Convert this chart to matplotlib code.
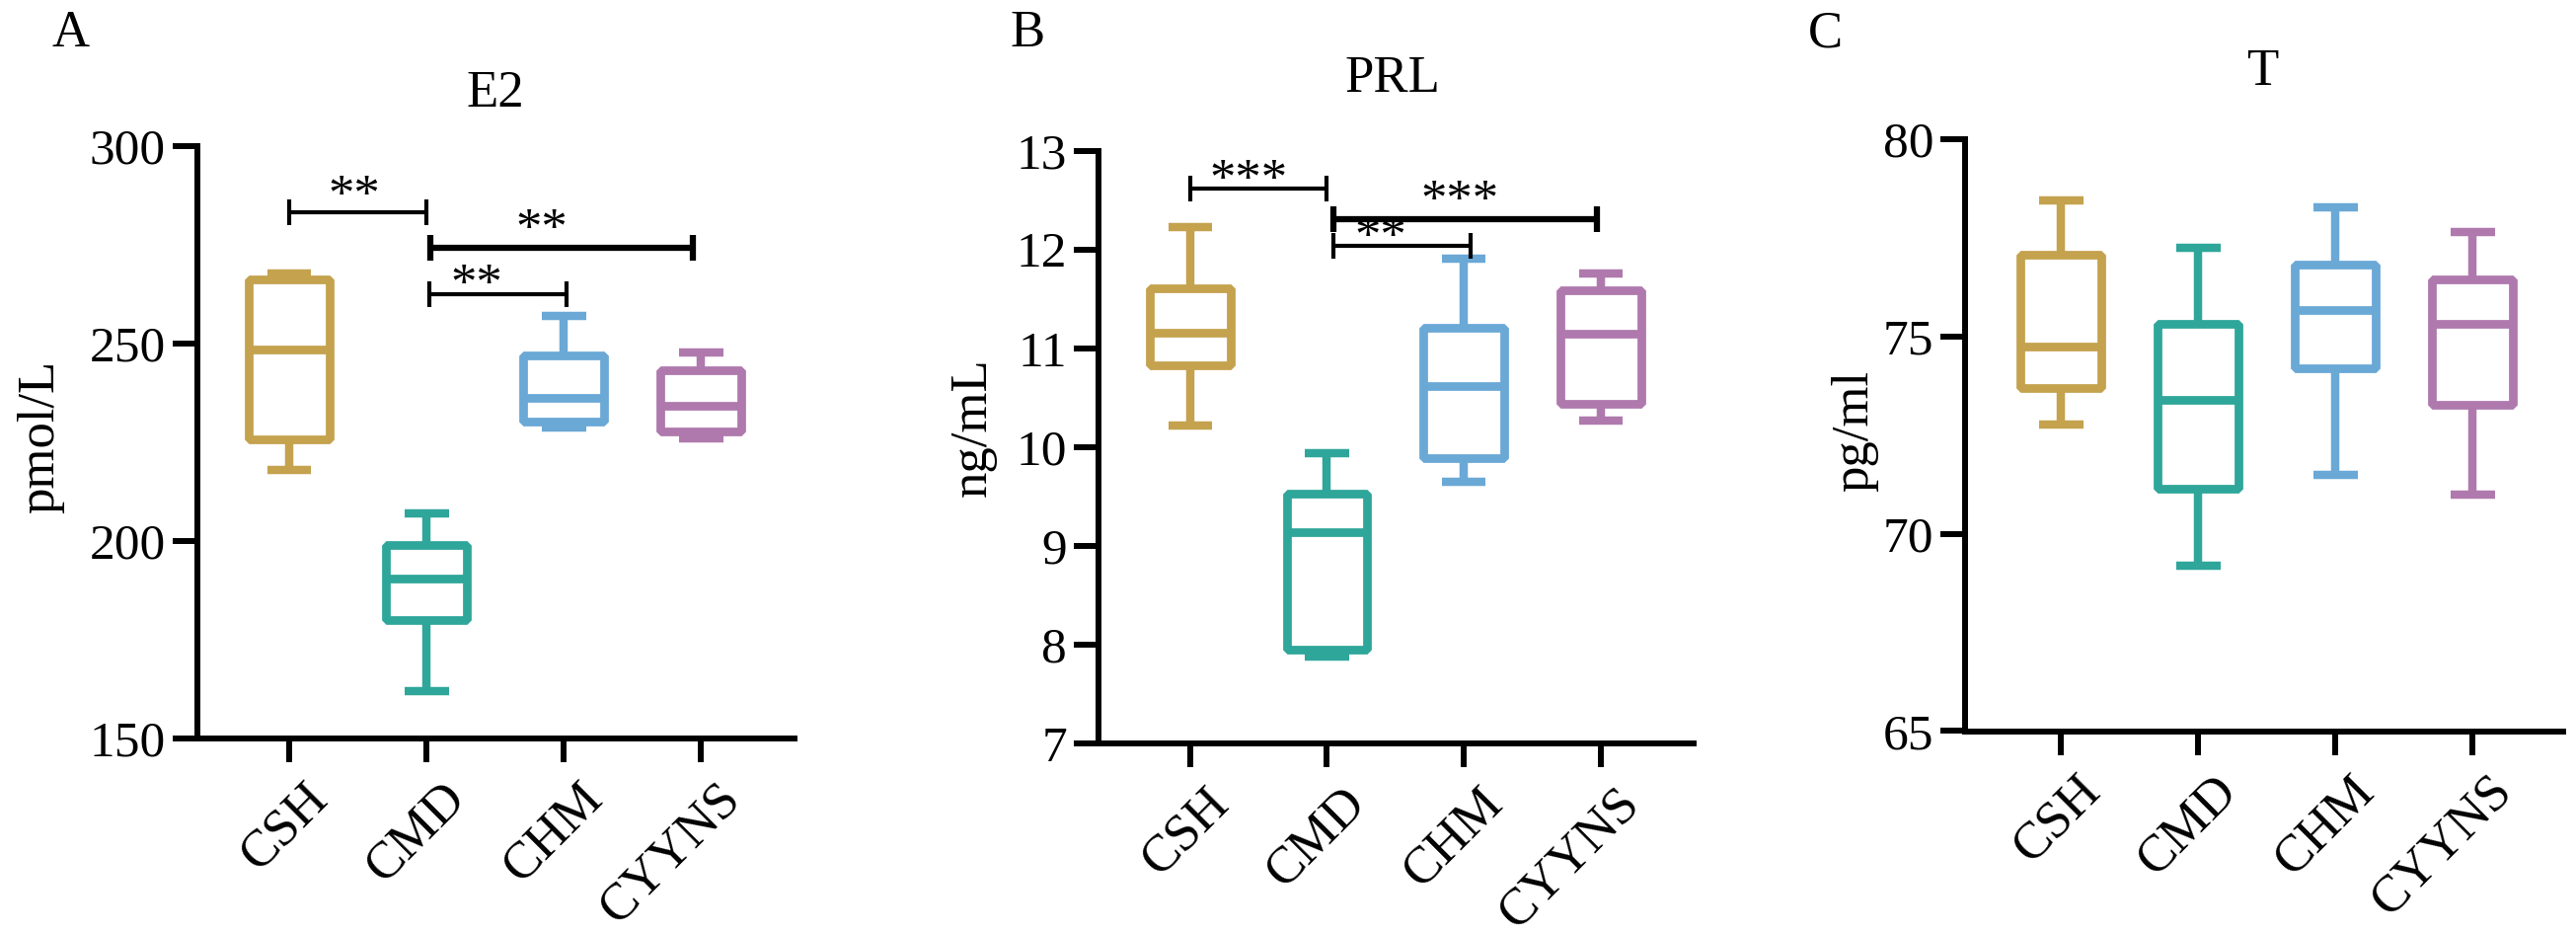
import matplotlib
matplotlib.use("Agg")
import matplotlib.pyplot as plt
from matplotlib.transforms import ScaledTranslation

plt.rcParams["font.family"] = ["Liberation Serif", "DejaVu Serif"]

GROUPS = ["CSH", "CMD", "CHM", "CYYNS"]
COLORS = ["#C4A24E", "#2FA69A", "#6AA8D6", "#AF79AE"]

# box statistics: whisker low, Q1, median, Q3, whisker high
E2_LOW = [218.0, 162.0, 228.7, 226.0]
E2_Q1 = [225.7, 180.0, 230.3, 227.8]
E2_MED = [248.4, 190.5, 236.3, 234.3]
E2_Q3 = [266.3, 199.0, 247.0, 243.3]
E2_HIGH = [267.7, 207.0, 257.0, 247.8]

PRL_LOW = [10.22, 7.88, 9.65, 10.27]
PRL_Q1 = [10.83, 7.95, 9.89, 10.44]
PRL_MED = [11.16, 9.14, 10.62, 11.15]
PRL_Q3 = [11.61, 9.53, 11.21, 11.59]
PRL_HIGH = [12.23, 9.94, 11.91, 11.76]

T_LOW = [72.77, 69.20, 71.48, 70.99]
T_Q1 = [73.68, 71.14, 74.18, 73.27]
T_MED = [74.73, 73.39, 75.67, 75.31]
T_Q3 = [77.06, 75.31, 76.81, 76.43]
T_HIGH = [78.45, 77.25, 78.27, 77.64]

# significance brackets: start, end, bracket height, label, label x / baseline
E2_SIG_X0 = [0.0, 1.03, 1.02]
E2_SIG_X1 = [1.0, 2.94, 2.02]
E2_SIG_Y = [283.3, 274.3, 262.6]
E2_SIG_TEXT = ["**", "**", "**"]
E2_SIG_TX = [0.47, 1.84, 1.36]
E2_SIG_TY = [283.8, 275.2, 261.2]

PRL_SIG_X0 = [0.0, 1.05, 1.05]
PRL_SIG_X1 = [1.0, 2.97, 2.05]
PRL_SIG_Y = [12.62, 12.31, 12.04]
PRL_SIG_TEXT = ["***", "***", "**"]
PRL_SIG_TX = [0.43, 1.97, 1.39]
PRL_SIG_TY = [12.56, 12.35, 11.98]

W, H = 2610, 944
fig = plt.figure(figsize=(W / 100, H / 100), dpi=100)


def px_axes(left, top, right, bottom):
    return fig.add_axes([left / W, 1 - bottom / H, (right - left) / W, (bottom - top) / H])


def draw_panel(ax, low, q1, med, q3, high, ylim, yticks, xlim):
    stats = [dict(whislo=a, q1=b, med=c, q3=d, whishi=e) for a, b, c, d, e in zip(low, q1, med, q3, high)]
    bp = ax.bxp(stats, positions=range(4), widths=0.59, capwidths=0.32, showfliers=False,
                patch_artist=True,
                boxprops=dict(linewidth=6.3, facecolor="white"),
                whiskerprops=dict(linewidth=6.1, solid_capstyle="butt"),
                capprops=dict(linewidth=6.1, solid_capstyle="butt"),
                medianprops=dict(linewidth=6.3, solid_capstyle="butt"))
    for i, c in enumerate(COLORS):
        bp["boxes"][i].set_edgecolor(c)
        bp["boxes"][i].set_joinstyle("bevel")
        bp["medians"][i].set_color(c)
        for art in bp["whiskers"][2 * i:2 * i + 2] + bp["caps"][2 * i:2 * i + 2]:
            art.set_color(c)

    ax.set_xlim(*xlim)
    ax.set_ylim(*ylim)
    ax.set_yticks(yticks)
    for s in ["top", "right"]:
        ax.spines[s].set_visible(False)
    for s in ["left", "bottom"]:
        ax.spines[s].set_linewidth(4.3)
        ax.spines[s].set_capstyle("projecting")
    ax.tick_params(axis="y", length=18, width=4.3, labelsize=37, pad=5)
    ax.tick_params(axis="x", length=17, width=4.3, labelsize=38, pad=21)
    ax.set_xticks(range(4))
    ax.set_xticklabels(GROUPS, rotation=45, ha="right", va="center", rotation_mode="anchor")
    shift = ScaledTranslation(0.32, 0, fig.dpi_scale_trans)
    for lab in ax.get_xticklabels():
        lab.set_transform(lab.get_transform() + shift)


def draw_sig(ax, x0s, x1s, ys, texts, txs, tys, half):
    for k, (x0, x1, y, t, tx, ty) in enumerate(zip(x0s, x1s, ys, texts, txs, tys)):
        lw = 4.5 if k == 1 else 3.0
        ax.plot([x0, x1], [y, y], color="black", lw=lw, solid_capstyle="butt", clip_on=False)
        for xe in (x0, x1):
            ax.plot([xe, xe], [y - half, y + half], color="black", lw=lw,
                    solid_capstyle="butt", clip_on=False)
        ax.text(tx, ty, t, ha="center", va="baseline", fontsize=38, clip_on=False)


ax_a = px_axes(200, 148, 805, 748)
draw_panel(ax_a, E2_LOW, E2_Q1, E2_MED, E2_Q3, E2_HIGH, (150, 300), [150, 200, 250, 300], (-0.67, 3.68))
draw_sig(ax_a, E2_SIG_X0, E2_SIG_X1, E2_SIG_Y, E2_SIG_TEXT, E2_SIG_TX, E2_SIG_TY, 3.25)

ax_b = px_axes(1113, 152.7, 1716, 753)
draw_panel(ax_b, PRL_LOW, PRL_Q1, PRL_MED, PRL_Q3, PRL_HIGH, (7, 13), [7, 8, 9, 10, 11, 12, 13], (-0.67, 3.68))
draw_sig(ax_b, PRL_SIG_X0, PRL_SIG_X1, PRL_SIG_Y, PRL_SIG_TEXT, PRL_SIG_TX, PRL_SIG_TY, 0.13)

ax_c = px_axes(1991, 140.7, 2597, 740.5)
draw_panel(ax_c, T_LOW, T_Q1, T_MED, T_Q3, T_HIGH, (65, 80), [65, 70, 75, 80], (-0.70, 3.66))


def fig_text(x, y, s, **kw):
    fig.text(x / W, 1 - y / H, s, **kw)


# panel letters, titles, y labels (pixel positions)
fig_text(72, 47, "A", ha="center", va="baseline", fontsize=38)
fig_text(1041, 47, "B", ha="center", va="baseline", fontsize=38)
fig_text(1849, 47, "C", ha="center", va="baseline", fontsize=38)

fig_text(502, 108, "E2", ha="center", va="baseline", fontsize=38)
fig_text(1411, 93, "PRL", ha="center", va="baseline", fontsize=38)
fig_text(2292, 86, "T", ha="center", va="baseline", fontsize=38)

fig_text(41, 442, "pmol/L", ha="center", va="center", rotation=90, fontsize=38)
fig_text(986, 433, "ng/mL", ha="center", va="center", rotation=90, fontsize=38)
fig_text(1879, 437, "pg/ml", ha="center", va="center", rotation=90, fontsize=38)

fig.savefig("out.png", dpi=100)
